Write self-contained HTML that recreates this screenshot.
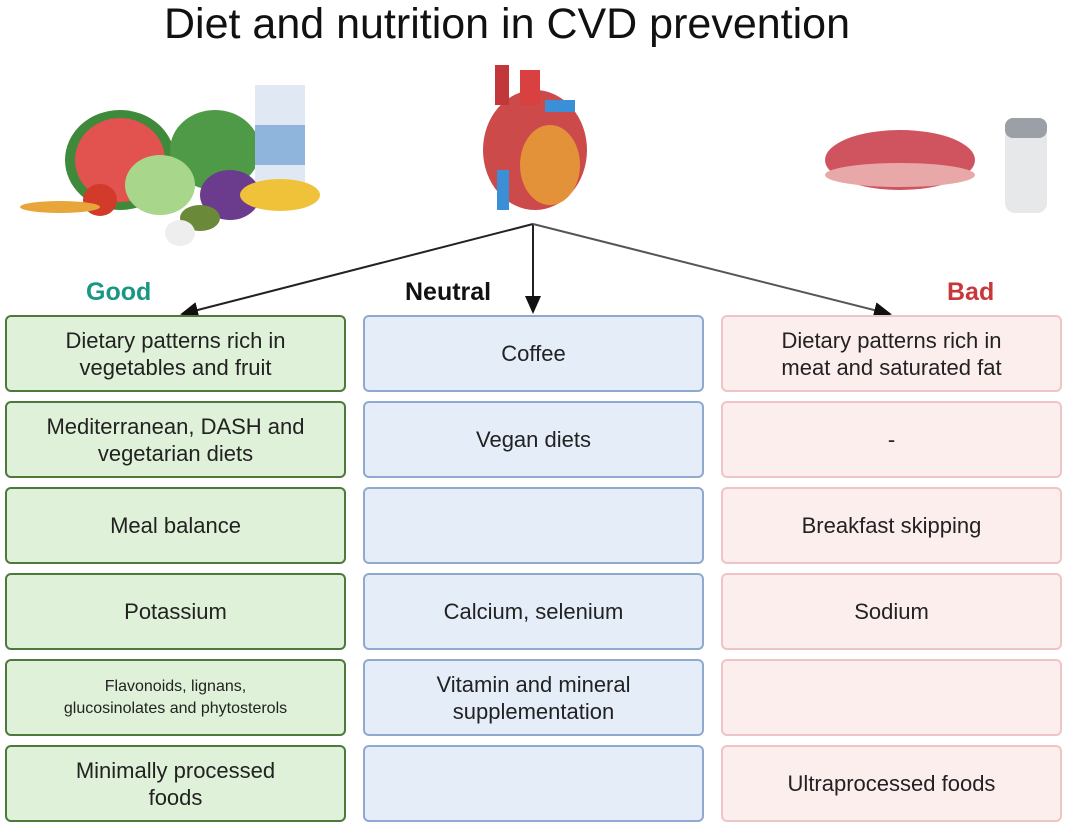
<!DOCTYPE html>
<html><head><meta charset="utf-8"><style>
body{margin:0;background:#fff;width:1066px;height:825px;position:relative;overflow:hidden;font-family:"Liberation Sans",sans-serif;}
.t{position:absolute;left:0;width:1014px;top:0px;text-align:center;font-size:43px;color:#111;}
.b{position:absolute;width:341px;height:77px;border-radius:6px;display:flex;align-items:center;justify-content:center;text-align:center;font-size:22px;line-height:27px;color:#222;box-sizing:border-box;}
.g{background:#dff1d8;border:2px solid #4d7a3c;left:5px;}
.n{background:#e5edf8;border:2px solid #8fa9cf;left:363px;}
.r{background:#fdeeee;border:2px solid #efc4c6;left:721px;}
.h{position:absolute;font-weight:bold;font-size:25px;top:278px;}
</style></head><body>
<div class="t">Diet and nutrition in CVD prevention</div>
<svg style="position:absolute;left:0;top:0" width="1066" height="825">
<defs><marker id="a" markerWidth="10" markerHeight="10" refX="8" refY="5" orient="auto"><path d="M0,1 L9,5 L0,9z" fill="#111"/></marker></defs>
<line x1="533" y1="224" x2="182" y2="314" stroke="#222" stroke-width="2" marker-end="url(#a)"/>
<line x1="533" y1="224" x2="533" y2="312" stroke="#222" stroke-width="2" marker-end="url(#a)"/>
<line x1="533" y1="224" x2="890" y2="314" stroke="#555" stroke-width="2" marker-end="url(#a)"/>
<ellipse cx="120" cy="160" rx="55" ry="50" fill="#3f8a3a"/>
<ellipse cx="120" cy="160" rx="45" ry="42" fill="#e2524f"/>
<ellipse cx="215" cy="150" rx="45" ry="40" fill="#4e9a46"/>
<ellipse cx="160" cy="185" rx="35" ry="30" fill="#a8d68a"/>
<rect x="255" y="85" width="50" height="100" fill="#dfe8f3"/>
<rect x="255" y="125" width="50" height="40" fill="#8fb5dc"/>
<ellipse cx="230" cy="195" rx="30" ry="25" fill="#6b3c8e"/>
<ellipse cx="280" cy="195" rx="40" ry="16" fill="#f0c23a"/>
<ellipse cx="100" cy="200" rx="17" ry="16" fill="#d23b2a"/>
<ellipse cx="60" cy="207" rx="40" ry="6" fill="#e8a63a"/>
<ellipse cx="200" cy="218" rx="20" ry="13" fill="#6a8a3a"/>
<ellipse cx="180" cy="233" rx="15" ry="13" fill="#eee"/>
<ellipse cx="535" cy="150" rx="52" ry="60" fill="#cc4a4a"/>
<ellipse cx="550" cy="165" rx="30" ry="40" fill="#e3923a"/>
<rect x="495" y="65" width="14" height="40" fill="#c2373a"/>
<rect x="520" y="70" width="20" height="35" fill="#d94040"/>
<rect x="545" y="100" width="30" height="12" fill="#3b8fd6"/>
<rect x="497" y="170" width="12" height="40" fill="#3b8fd6"/>
<ellipse cx="900" cy="160" rx="75" ry="30" fill="#d05460"/>
<ellipse cx="900" cy="175" rx="75" ry="12" fill="#e8a8a8"/>
<rect x="1005" y="125" width="42" height="88" rx="10" fill="#e6e8ea"/>
<rect x="1005" y="118" width="42" height="20" rx="8" fill="#9aa0a6"/>
</svg>
<div class="h" style="left:86px;color:#1a9685">Good</div>
<div class="h" style="left:405px;color:#111">Neutral</div>
<div class="h" style="left:947px;color:#c8373a">Bad</div>

<div class="b g" style="top:315px">Dietary patterns rich in<br>vegetables and fruit</div>
<div class="b g" style="top:401px">Mediterranean, DASH and<br>vegetarian diets</div>
<div class="b g" style="top:487px">Meal balance</div>
<div class="b g" style="top:573px">Potassium</div>
<div class="b g" style="top:659px;font-size:16px;line-height:22px">Flavonoids, lignans,<br>glucosinolates and phytosterols</div>
<div class="b g" style="top:745px">Minimally processed<br>foods</div>

<div class="b n" style="top:315px">Coffee</div>
<div class="b n" style="top:401px">Vegan diets</div>
<div class="b n" style="top:487px"></div>
<div class="b n" style="top:573px">Calcium, selenium</div>
<div class="b n" style="top:659px">Vitamin and mineral<br>supplementation</div>
<div class="b n" style="top:745px"></div>

<div class="b r" style="top:315px">Dietary patterns rich in<br>meat and saturated fat</div>
<div class="b r" style="top:401px">-</div>
<div class="b r" style="top:487px">Breakfast skipping</div>
<div class="b r" style="top:573px">Sodium</div>
<div class="b r" style="top:659px"></div>
<div class="b r" style="top:745px">Ultraprocessed foods</div>
</body></html>
